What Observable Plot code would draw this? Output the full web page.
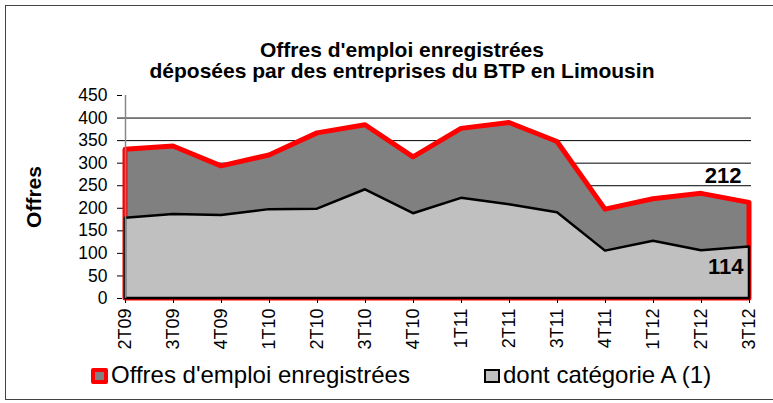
<!DOCTYPE html>
<html><head><meta charset="utf-8">
<script src="https://cdn.jsdelivr.net/npm/d3@7"></script>
<script src="https://cdn.jsdelivr.net/npm/@observablehq/plot@0.6"></script>
<style>
body{margin:0;background:#fff;font-family:"Liberation Sans",Arial,sans-serif;}
#wrap{position:relative;width:773px;height:403px;overflow:hidden;}
#frame{position:absolute;left:5px;top:5px;width:800px;height:395px;border:1.5px solid #444;box-sizing:border-box;}
#title{position:absolute;left:0;width:804px;top:39px;text-align:center;font-weight:bold;font-size:21px;line-height:21px;color:#000;}
#chart{position:absolute;left:0;top:0;}
.legtxt{position:absolute;top:363px;font-size:24px;line-height:24px;color:#000;white-space:nowrap;}
.sw{position:absolute;box-sizing:border-box;}
#chart svg [aria-label="y-axis label"] text{font-weight:bold;font-size:21px;}
</style></head>
<body>
<div id="wrap">
<div id="frame"></div>
<div id="chart"></div>
<div id="title">Offres d'emploi enregistrées<br>déposées par des entreprises du BTP en Limousin</div>
<div class="sw" style="left:91px;top:368px;width:17px;height:16px;background:#808080;border:4px solid #ff0000;border-radius:2px"></div>
<div class="legtxt" style="left:111px">Offres d'emploi enregistrées</div>
<div class="sw" style="left:484px;top:369px;width:16px;height:14px;background:#c0c0c0;border:2.5px solid #000"></div>
<div class="legtxt" style="left:503px">dont catégorie A (1)</div>
</div>
<script>
const quarters = ["2T09","3T09","4T09","1T10","2T10","3T10","4T10","1T11","2T11","3T11","4T11","1T12","2T12","3T12"];
const totalOffers = [330,337,293,317,366,384,313,376,389,347,197,220,232,212];
const categoryA = [178,186,184,197,198,241,188,222,208,190,105,127,106,114];
const yTicks = [0,50,100,150,200,250,300,350,400,450];
const gridLines = [50,100,150,200,250,300,350,400];

const data = quarters.map((q,i)=>({q, total: totalOffers[i], catA: categoryA[i]}));
const last = data[data.length-1];

const chart = Plot.plot({
  width: 773, height: 403,
  marginLeft: 122, marginRight: 22, marginTop: 95, marginBottom: 105,
  style: {fontFamily: '"Liberation Sans", Arial, sans-serif', color: "#000", background: "transparent", overflow: "visible"},
  x: {type: "point", domain: quarters, padding: 0},
  y: {domain: [0,450]},
  marks: [
    Plot.ruleY(gridLines, {stroke: "#000", strokeWidth: 1}),
    Plot.areaY(data, {x: "q", y: "total", fill: "#808080", stroke: "#ff0000", strokeWidth: 5, strokeLinejoin: "round"}),
    Plot.areaY(data, {x: "q", y: "catA", fill: "#c0c0c0", stroke: "#000", strokeWidth: 2.5}),
    Plot.ruleX([quarters[0]], {y1: 0, y2: 450, stroke: "#888", strokeWidth: 1.5}),
    Plot.axisY({ticks: yTicks, tickSize: 5, tickPadding: 10, fontSize: 17.5, label: "Offres", labelAnchor: "center", labelArrow: "none", labelOffset: 96, stroke: "#000"}),
    Plot.axisX({tickSize: 5, tickRotate: -90, tickPadding: 5, fontSize: 18, label: null, stroke: "#000"}),
    Plot.text([last], {x: "q", y: "total", text: d => String(d.total), dx: -8, dy: -27, textAnchor: "end", fontSize: 22, fontWeight: "bold", fill: "#000"}),
    Plot.text([last], {x: "q", y: "catA", text: d => String(d.catA), dx: -6, dy: 20, textAnchor: "end", fontSize: 22, fontWeight: "bold", fill: "#000"})
  ]
});
document.getElementById("chart").appendChild(chart);
</script>
</body></html>
